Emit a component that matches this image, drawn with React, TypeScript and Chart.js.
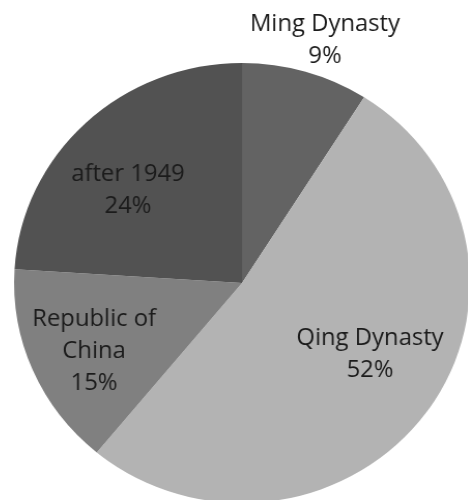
import React, { useEffect, useRef } from "react";
import { Chart, registerables } from "chart.js";

Chart.register(...registerables);

const categories = ["Ming Dynasty", "Qing Dynasty", "Republic of\nChina", "after 1949"];
const shares = [9, 52, 15, 24];
const sliceColors = ["#636363", "#b3b3b3", "#808080", "#525252"];

// label placement: radius factor and angular offset (degrees) per slice
const labelRadius = [1.159, 0.65, 0.719, 0.655];
const labelAngleOffset = [2.1, -5.8, -2.1, -6.6];

const labelPlugin = {
  id: "sliceLabels",
  afterDatasetsDraw(chart: any) {
    const ctx = chart.ctx;
    const meta = chart.getDatasetMeta(0);
    const data = chart.data.datasets[0].data as number[];
    const total = data.reduce((a, b) => a + b, 0);
    ctx.save();
    ctx.font = '23px "Open Sans"';
    ctx.fillStyle = "#1b1b1b";
    ctx.textAlign = "center";
    ctx.textBaseline = "middle";
    meta.data.forEach((arc: any, i: number) => {
      const p = arc.getProps(["x", "y", "startAngle", "endAngle", "outerRadius"], true);
      const mid = (p.startAngle + p.endAngle) / 2 + (labelAngleOffset[i] * Math.PI) / 180;
      const r = p.outerRadius * labelRadius[i];
      const cx = p.x + Math.cos(mid) * r;
      const cy = p.y + Math.sin(mid) * r;
      const lines = String(chart.data.labels[i]).split("\n");
      lines.push(Math.round((data[i] / total) * 100) + "%");
      const lh = 32;
      lines.forEach((t: string, k: number) => {
        ctx.fillText(t, cx, cy + (k - (lines.length - 1) / 2) * lh);
      });
    });
    ctx.restore();
  },
};

export default function App() {
  const ref = useRef<HTMLCanvasElement | null>(null);
  useEffect(() => {
    if (!ref.current) return;
    const chart = new Chart(ref.current, {
      type: "pie",
      data: {
        labels: categories,
        datasets: [
          {
            data: shares,
            backgroundColor: sliceColors,
            borderWidth: 0,
          },
        ],
      },
      options: {
        responsive: false,
        animation: false,
        layout: { padding: { left: 22, right: 6, top: 63, bottom: 7 } },
        plugins: {
          legend: { display: false },
          tooltip: { enabled: false },
        },
      },
      plugins: [labelPlugin],
    });
    return () => chart.destroy();
  }, []);
  return (
    <div
      style={{
        position: "fixed",
        left: 0,
        top: 0,
        width: 468,
        height: 500,
        overflow: "hidden",
        background: "#ffffff",
      }}
    >
      <div style={{ transform: "scaleX(1.036)", transformOrigin: "242px 0px", width: 468, height: 510 }}>
        <canvas ref={ref} width={468} height={510} style={{ display: "block" }} />
      </div>
    </div>
  );
}
